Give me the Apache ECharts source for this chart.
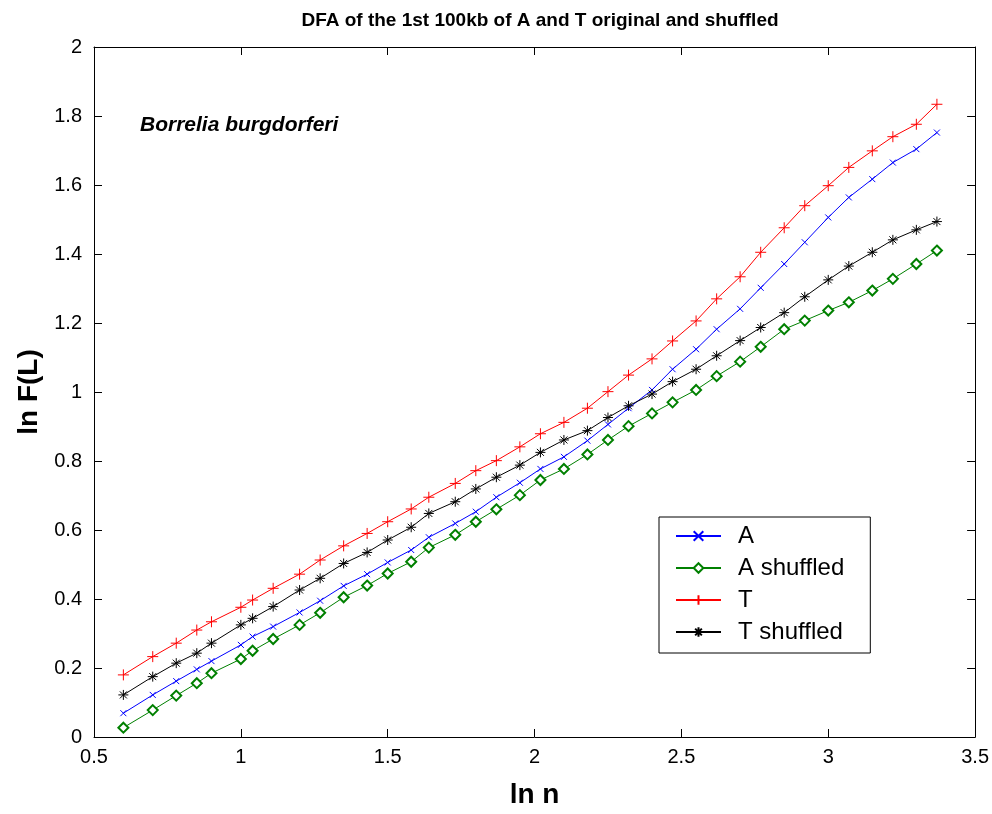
<!DOCTYPE html>
<html>
<head>
<meta charset="utf-8">
<title>DFA chart</title>
<script src="https://cdn.jsdelivr.net/npm/echarts@6/dist/echarts.min.js"></script>
<style>
  html, body { margin: 0; padding: 0; background: #fff; }
  #main { width: 992px; height: 814px; }
</style>
</head>
<body>
<div id="main"></div>
<script>
// ln n (shared by all four curves)
var lnN = [0.60, 0.70, 0.78, 0.85, 0.90, 1.00, 1.04, 1.11, 1.20, 1.27,
  1.35, 1.43, 1.50, 1.58, 1.64, 1.73, 1.80, 1.87, 1.95, 2.02,
  2.10, 2.18, 2.25, 2.32, 2.40, 2.47, 2.55, 2.62, 2.70, 2.77,
  2.85, 2.92, 3.00, 3.07, 3.15, 3.22, 3.30, 3.37];

var seriesA = [0.069, 0.122, 0.162, 0.196, 0.220, 0.267, 0.291, 0.320, 0.361, 0.395,
  0.438, 0.472, 0.506, 0.542, 0.579, 0.619, 0.653, 0.695, 0.737, 0.777,
  0.812, 0.859, 0.906, 0.953, 1.006, 1.066, 1.124, 1.182, 1.241, 1.302,
  1.371, 1.434, 1.506, 1.564, 1.617, 1.665, 1.704, 1.752];

var seriesAShuffled = [0.027, 0.078, 0.120, 0.156, 0.185, 0.226, 0.250, 0.284, 0.325, 0.360,
  0.405, 0.439, 0.474, 0.508, 0.549, 0.586, 0.624, 0.660, 0.701, 0.745,
  0.777, 0.819, 0.861, 0.901, 0.938, 0.970, 1.006, 1.046, 1.088, 1.131,
  1.182, 1.207, 1.236, 1.260, 1.294, 1.328, 1.371, 1.410];

var seriesT = [0.180, 0.233, 0.272, 0.310, 0.334, 0.376, 0.397, 0.431, 0.472, 0.513,
  0.554, 0.590, 0.624, 0.661, 0.695, 0.735, 0.772, 0.801, 0.841, 0.879,
  0.912, 0.953, 1.001, 1.049, 1.096, 1.148, 1.206, 1.270, 1.334, 1.405,
  1.476, 1.540, 1.598, 1.651, 1.699, 1.740, 1.776, 1.834];

var seriesTShuffled = [0.122, 0.175, 0.214, 0.243, 0.272, 0.325, 0.344, 0.378, 0.426, 0.460,
  0.503, 0.535, 0.571, 0.608, 0.648, 0.682, 0.719, 0.753, 0.788, 0.825,
  0.861, 0.888, 0.926, 0.960, 0.994, 1.030, 1.066, 1.105, 1.149, 1.187,
  1.230, 1.276, 1.325, 1.365, 1.405, 1.441, 1.470, 1.494];

var seriesNames = ['A', 'A shuffled', 'T', 'T shuffled'];

var FONT = 'Liberation Sans, Arial, sans-serif';

// markers, matlab style
var SYM_X = 'path://M0,0L10,10M10,0L0,10';
var SYM_PLUS = 'path://M5,0L5,10M0,5L10,5';
var SYM_STAR = 'path://M5,0L5,10M0,5L10,5M1.5,1.5L8.5,8.5M8.5,1.5L1.5,8.5';

function pairs(ys) {
  var out = [];
  for (var i = 0; i < lnN.length; i++) {
    out.push([lnN[i], ys[i]]);
  }
  return out;
}

function makeLine(name, ys, color, symbol, size) {
  return {
    name: name,
    type: 'line',
    data: pairs(ys),
    symbol: symbol,
    symbolSize: size,
    showAllSymbol: true,
    lineStyle: { color: color, width: 1 },
    itemStyle: { color: color, borderColor: color, borderWidth: 1 },
    emphasis: { disabled: true },
    animation: false
  };
}

var chart = echarts.init(document.getElementById('main'), null, { renderer: 'canvas' });

var tickStyle = { inside: true, length: 8, lineStyle: { color: '#000', width: 1 } };
var lineAx = { show: true, onZero: false, lineStyle: { color: '#000', width: 1 } };

var option = {
  backgroundColor: '#fff',
  animation: false,
  title: {
    text: 'DFA of the 1st 100kb of A and T original and shuffled',
    left: 535,
    textAlign: 'center',
    top: 6,
    textStyle: { fontFamily: FONT, fontSize: 19, fontWeight: 'bold', color: '#000' }
  },
  grid: { left: 94, right: 16, top: 47, bottom: 77 },
  legend: {
    data: seriesNames,
    orient: 'vertical',
    left: 659,
    top: 517,
    padding: [7, 26, 9, 16],
    itemWidth: 45,
    itemHeight: 12,
    itemGap: 8,
    borderColor: '#000',
    borderWidth: 1,
    backgroundColor: '#fff',
    textStyle: { fontFamily: FONT, fontSize: 24, color: '#000', padding: [0, 0, 0, 12] }
  },
  xAxis: [{
    type: 'value',
    min: 0.5,
    max: 3.5,
    interval: 0.5,
    name: 'ln n',
    nameLocation: 'middle',
    nameGap: 44,
    nameTextStyle: { fontFamily: FONT, fontSize: 28, fontWeight: 'bold', color: '#000' },
    axisLine: lineAx,
    axisTick: tickStyle,
    axisLabel: { fontFamily: FONT, fontSize: 20, color: '#000', margin: 10 },
    splitLine: { show: false }
  }, {
    type: 'value',
    position: 'top',
    min: 0.5,
    max: 3.5,
    interval: 0.5,
    axisLine: lineAx,
    axisTick: tickStyle,
    axisLabel: { show: false },
    splitLine: { show: false }
  }],
  yAxis: [{
    type: 'value',
    min: 0,
    max: 2,
    interval: 0.2,
    name: 'ln F(L)',
    nameLocation: 'middle',
    nameGap: 50,
    nameTextStyle: { fontFamily: FONT, fontSize: 28, fontWeight: 'bold', color: '#000' },
    axisLine: lineAx,
    axisTick: tickStyle,
    axisLabel: { fontFamily: FONT, fontSize: 20, color: '#000', margin: 12 },
    splitLine: { show: false }
  }, {
    type: 'value',
    position: 'right',
    min: 0,
    max: 2,
    interval: 0.2,
    axisLine: lineAx,
    axisTick: tickStyle,
    axisLabel: { show: false },
    splitLine: { show: false }
  }],
  graphic: [{
    type: 'text',
    left: 140,
    top: 115,
    style: {
      text: 'Borrelia burgdorferi',
      fontFamily: FONT,
      fontSize: 21,
      fontWeight: 'bold',
      fontStyle: 'italic',
      fill: '#000'
    }
  }],
  series: [
    makeLine('A', seriesA, '#0000ff', SYM_X, 6),
    makeLine('A shuffled', seriesAShuffled, '#008000', 'emptyDiamond', 10),
    makeLine('T', seriesT, '#ff0000', SYM_PLUS, 11),
    makeLine('T shuffled', seriesTShuffled, '#000000', SYM_STAR, 10)
  ]
};

chart.setOption(option);
</script>
</body>
</html>
